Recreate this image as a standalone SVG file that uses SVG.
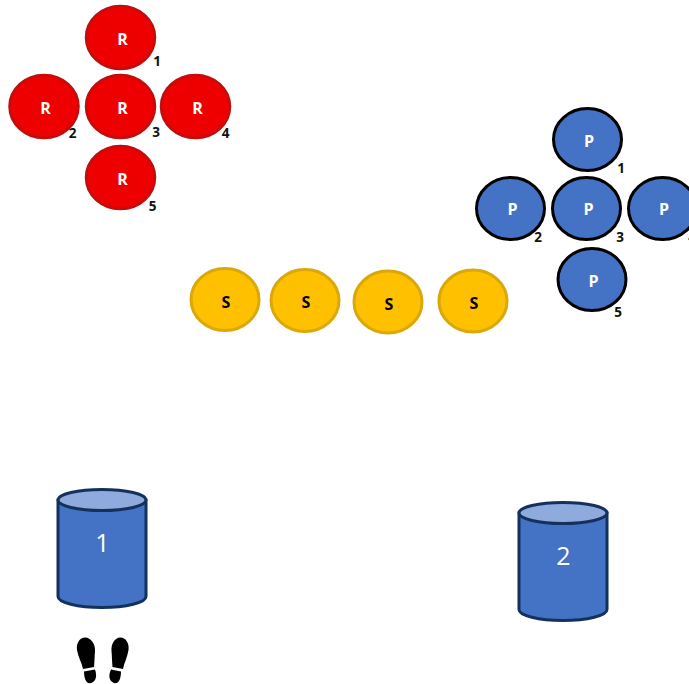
<svg xmlns="http://www.w3.org/2000/svg" width="689" height="684" viewBox="0 0 689 684">
<style>
text{font-family:"Open Sans","Noto Sans","Liberation Sans",sans-serif;text-anchor:middle}
.c{font-size:16px;font-weight:700}
.n{font-size:13.5px;font-weight:700;fill:#111}
.w{fill:#fff}
.r{fill:#ee0000;stroke:#c00d0d;stroke-width:2.5}
.p{fill:#4472c4;stroke:#000;stroke-width:3}
.s{fill:#ffc000;stroke:#d9a80a;stroke-width:3}
.body{fill:#4472c4;stroke:#14305c;stroke-width:3}
.top{fill:#8faadc;stroke:#14305c;stroke-width:3}
.big{font-size:25px;fill:#fff}
</style>
<g id="R1"><ellipse class="r" cx="120.5" cy="37.5" rx="34.5" ry="31.5"/><text class="c w" x="122.5" y="45">R</text><text class="n" x="157" y="66">1</text></g>
<g id="R2"><ellipse class="r" cx="44" cy="106.5" rx="34.5" ry="31.5"/><text class="c w" x="45.5" y="114">R</text><text class="n" x="72.5" y="138">2</text></g>
<g id="R3"><ellipse class="r" cx="120.5" cy="106.5" rx="34.5" ry="31.5"/><text class="c w" x="122.5" y="114">R</text><text class="n" x="156" y="137">3</text></g>
<g id="R4"><ellipse class="r" cx="195.5" cy="106.5" rx="34.5" ry="31.5"/><text class="c w" x="197.5" y="114">R</text><text class="n" x="225.5" y="138">4</text></g>
<g id="R5"><ellipse class="r" cx="120.5" cy="177.5" rx="34.5" ry="31.5"/><text class="c w" x="122.5" y="185">R</text><text class="n" x="152.5" y="211">5</text></g>
<g id="P1"><ellipse class="p" cx="587.5" cy="139.5" rx="34" ry="31"/><text class="c w" x="589" y="146.500">P</text><text class="n" x="621" y="173">1</text></g>
<g id="P2"><ellipse class="p" cx="510.5" cy="208.5" rx="34" ry="31"/><text class="c w" x="512.5" y="214.500">P</text><text class="n" x="538" y="242">2</text></g>
<g id="P3"><ellipse class="p" cx="586.5" cy="208.5" rx="34" ry="31"/><text class="c w" x="588.5" y="214.500">P</text><text class="n" x="620" y="242">3</text></g>
<g id="P4"><ellipse class="p" cx="662.5" cy="208.5" rx="34" ry="31"/><text class="c w" x="664" y="214.500">P</text><text class="n" x="692" y="242">4</text></g>
<g id="P5"><ellipse class="p" cx="592" cy="279.5" rx="34" ry="31"/><text class="c w" x="593.5" y="286.500">P</text><text class="n" x="618" y="317">5</text></g>
<g id="S1"><ellipse class="s" cx="225" cy="299.5" rx="34" ry="31"/><text class="c" x="226" y="308">S</text></g>
<g id="S2"><ellipse class="s" cx="305" cy="300.5" rx="34" ry="31"/><text class="c" x="306" y="308">S</text></g>
<g id="S3"><ellipse class="s" cx="388" cy="302" rx="34" ry="31"/><text class="c" x="389" y="310">S</text></g>
<g id="S4"><ellipse class="s" cx="473" cy="301" rx="34" ry="31"/><text class="c" x="474" y="309">S</text></g>
<g id="cyl1"><path class="body" d="M58 500V596.500A44 11 0 0 0 146 596.500V500Z"/><ellipse class="top" cx="102" cy="500" rx="44" ry="10.500"/><text class="big" x="102.500" y="551.500">1</text></g>
<g id="cyl2"><path class="body" d="M519 513V609.500A44 11 0 0 0 607 609.500V513Z"/><ellipse class="top" cx="563" cy="513" rx="44" ry="10.500"/><text class="big" x="563.500" y="565">2</text></g>
<g id="footprints" fill="#000">
<path d="M77 650C76 643 80 637.500 85 637.500C91 637.500 95.500 644 95 651C94.500 657 94.500 662 94 667L83 669C82 663 78 657 77 650Z"/>
<path d="M84 671.500L95 669.500C97 675 96.500 681 91 683C86 684.500 84 678 84 671.500Z"/>
<path d="M128.500 650C129.500 643 125.500 637.500 120.500 637.500C114.500 637.500 111 644 111.500 651C112 657 112 662 112.500 667L123 669C124 663 127.500 657 128.500 650Z"/>
<path d="M121 671.500L111 669.500C108.500 675 108.500 681 114 683C119 684.500 121 678 121 671.500Z"/>
</g>
<g id="connectors"/>
</svg>
